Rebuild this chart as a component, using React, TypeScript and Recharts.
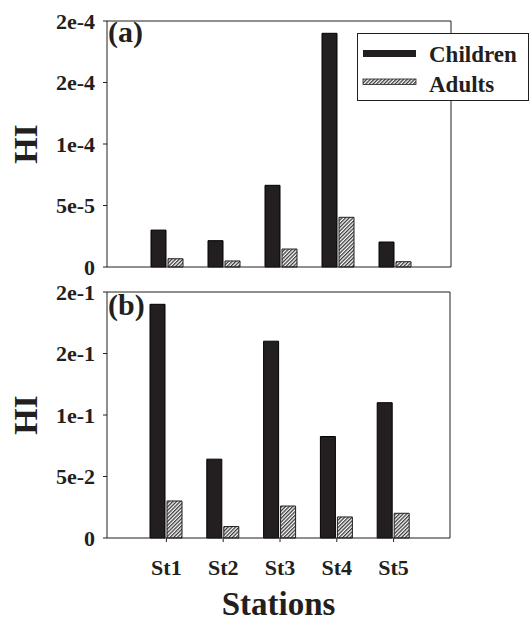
import React from 'react';
import { BarChart, Bar, XAxis, YAxis, Legend } from 'recharts';

const stations = ['St1', 'St2', 'St3', 'St4', 'St5'];
const childrenA = [3.0e-5, 2.14e-5, 6.64e-5, 1.9e-4, 2.03e-5];
const adultsA = [6.7e-6, 4.9e-6, 1.46e-5, 4.04e-5, 4.3e-6];
const childrenB = [0.19, 0.0641, 0.16, 0.0825, 0.11];
const adultsB = [0.0301, 0.0093, 0.026, 0.0171, 0.0201];
const ticksA = [0, 5e-5, 1e-4, 1.5e-4, 2e-4];
const tickLabelsA = ['0', '5e-5', '1e-4', '2e-4', '2e-4'];
const ticksB = [0, 0.05, 0.1, 0.15, 0.2];
const tickLabelsB = ['0', '5e-2', '1e-1', '2e-1', '2e-1'];

const dataA = stations.map((s, i) => ({ name: s, children: childrenA[i], adults: adultsA[i] }));
const dataB = stations.map((s, i) => ({ name: s, children: childrenB[i], adults: adultsB[i] }));

const FONT = '"Liberation Serif", "Times New Roman", Times, serif';
const INK = '#231f20';

const tickStyle = { fill: INK, fontSize: 22, fontWeight: 'bold' as const, fontFamily: FONT };

const LegendBox = (props: any) => {
  const payload = props.payload || [];
  return (
    <svg width={172} height={69} style={{ display: 'block' }}>
      <rect x={0.5} y={0.5} width={171} height={67} fill="#ffffff" stroke={INK} strokeWidth={1} />
      {payload.map((p: any, i: number) => {
        const isChildren = p.dataKey === 'children';
        const sy = isChildren ? 17 : 46;
        const sh = isChildren ? 7 : 5.5;
        const ty = isChildren ? 29 : 59;
        return (
          <g key={i}>
            <rect
              x={6}
              y={sy}
              width={53}
              height={sh}
              fill={isChildren ? INK : 'url(#hatch)'}
              stroke={INK}
              strokeWidth={isChildren ? 0 : 0.8}
            />
            <text x={72} y={ty} fontFamily={FONT} fontWeight="bold" fontSize={23} fill={INK}>
              {p.value}
            </text>
          </g>
        );
      })}
    </svg>
  );
};

const panelLabel = (txt: string, dy: number) => (props: any) => {
  const vb = props.viewBox || { x: 0, y: 0 };
  return (
    <text x={vb.x + 1} y={vb.y + dy} fontFamily={FONT} fontWeight="bold" fontSize={30} fill={INK}>
      {txt}
    </text>
  );
};

export default function App() {
  return (
    <div style={{ position: 'absolute', left: 0, top: 0, width: 530, height: 621, background: '#fff' }}>
      <svg width={0} height={0} style={{ position: 'absolute' }}>
        <defs>
          <pattern id="hatch" patternUnits="userSpaceOnUse" width={2.6} height={2.6} patternTransform="rotate(45)">
            <rect width={2.6} height={2.6} fill="#ffffff" />
            <rect width={1.3} height={2.6} fill="#3a3a3a" />
          </pattern>
        </defs>
      </svg>

      <div style={{ position: 'absolute', left: 0, top: 0 }}>
        <BarChart
          width={530}
          height={280}
          data={dataA}
          margin={{ top: 20, right: 78, bottom: 0, left: 0 }}
          barSize={15}
          barGap={2}
        >
          <XAxis
            dataKey="name"
            height={13}
            padding={{ left: 31, right: 28 }}
            tick={false}
            tickSize={4}
            axisLine={{ stroke: INK }}
            tickLine={{ stroke: INK }}
          />
          <XAxis
            xAxisId="top"
            dataKey="name"
            orientation="top"
            height={1}
            tick={false}
            tickLine={false}
            axisLine={{ stroke: INK }}
            label={{ content: panelLabel('(a)', 22) }}
          />
          <YAxis
            type="number"
            domain={[0, 2e-4]}
            ticks={ticksA}
            width={107}
            tickSize={4}
            tickMargin={8}
            tick={tickStyle}
            interval={0}
            tickFormatter={(v: number) => tickLabelsA[ticksA.indexOf(v)]}
            axisLine={{ stroke: INK }}
            tickLine={{ stroke: INK }}
            label={{
              value: 'HI',
              angle: -90,
              position: 'insideLeft',
              offset: 25,
              style: { textAnchor: 'middle', fontSize: 34, fontWeight: 'bold', fontFamily: FONT, fill: INK },
            }}
          />
          <YAxis
            yAxisId="right"
            orientation="right"
            width={1}
            tick={false}
            tickLine={false}
            axisLine={{ stroke: INK }}
          />
          <Legend
            layout="horizontal"
            verticalAlign="middle"
            align="center"
            content={<LegendBox />}
            wrapperStyle={{ left: 357, top: 33, width: 172, height: 69 }}
          />
          <Bar dataKey="children" name="Children" fill={INK} stroke="#000" strokeWidth={1} isAnimationActive={false} />
          <Bar dataKey="adults" name="Adults" fill="url(#hatch)" stroke={INK} strokeWidth={1} isAnimationActive={false} />
        </BarChart>
      </div>

      <div style={{ position: 'absolute', left: 0, top: 280 }}>
        <BarChart
          width={530}
          height={341}
          data={dataB}
          margin={{ top: 11, right: 79, bottom: 0, left: 0 }}
          barSize={15}
          barGap={2}
        >
          <XAxis
            dataKey="name"
            height={83}
            padding={{ left: 31, right: 28 }}
            tickSize={4}
            tickMargin={17}
            tick={tickStyle}
            interval={0}
            axisLine={{ stroke: INK }}
            tickLine={{ stroke: INK }}
            label={{
              value: 'Stations',
              position: 'insideBottom',
              offset: 6,
              style: { fontSize: 33, fontWeight: 'bold', fontFamily: FONT, fill: INK },
            }}
          />
          <XAxis
            xAxisId="top"
            dataKey="name"
            orientation="top"
            height={1}
            tick={false}
            tickLine={false}
            axisLine={{ stroke: INK }}
            label={{ content: panelLabel('(b)', 24) }}
          />
          <YAxis
            type="number"
            domain={[0, 0.2]}
            ticks={ticksB}
            width={107}
            tickSize={4}
            tickMargin={8}
            tick={tickStyle}
            interval={0}
            tickFormatter={(v: number) => tickLabelsB[ticksB.indexOf(v)]}
            axisLine={{ stroke: INK }}
            tickLine={{ stroke: INK }}
            label={{
              value: 'HI',
              angle: -90,
              position: 'insideLeft',
              offset: 25,
              style: { textAnchor: 'middle', fontSize: 34, fontWeight: 'bold', fontFamily: FONT, fill: INK },
            }}
          />
          <YAxis
            yAxisId="right"
            orientation="right"
            width={1}
            tick={false}
            tickLine={false}
            axisLine={{ stroke: INK }}
          />
          <Bar dataKey="children" name="Children" fill={INK} stroke="#000" strokeWidth={1} isAnimationActive={false} />
          <Bar dataKey="adults" name="Adults" fill="url(#hatch)" stroke={INK} strokeWidth={1} isAnimationActive={false} />
        </BarChart>
      </div>
    </div>
  );
}
